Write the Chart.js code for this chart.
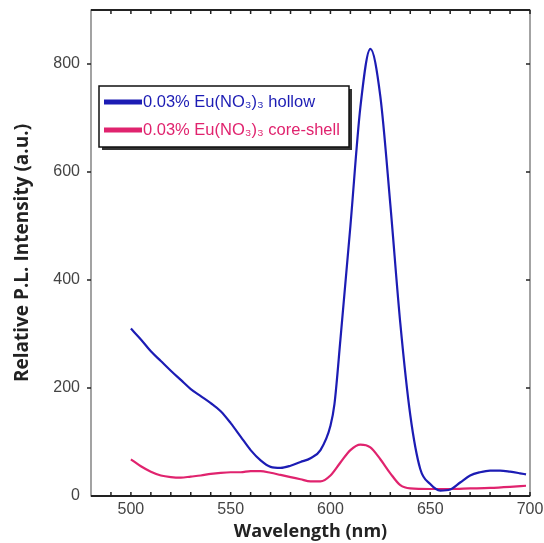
<!DOCTYPE html>
<html>
<head>
<meta charset="utf-8">
<script src="https://cdn.jsdelivr.net/npm/chart.js@4.4.1/dist/chart.umd.min.js"></script>
<style>
  html, body { margin: 0; padding: 0; background: #fff; }
  #wrap { width: 544px; height: 543px; }
</style>
</head>
<body>
<div id="wrap"><canvas id="chart" width="544" height="543"></canvas></div>
<script>
// wavelength (nm)
const wl_hollow = [500, 505, 510, 515, 520, 525, 530, 535, 540, 545, 550, 555, 560, 565, 570, 575, 580, 585, 590, 595, 600, 602, 605, 610, 615, 620, 625, 630, 635, 640, 645, 650, 655, 660, 665, 670, 675, 680, 685, 690, 695, 698]
const pl_hollow = [310, 290, 268, 250, 232, 215, 198, 185, 172, 157, 135, 110, 85, 66, 54, 52, 56, 63, 70, 85, 130, 170, 290, 500, 720, 828, 740, 540, 320, 150, 50, 22, 10, 12, 25, 38, 44, 47, 47, 45, 42, 40]

const wl_core = [500, 505, 510, 515, 520, 525, 530, 535, 540, 545, 550, 555, 560, 565, 570, 575, 580, 585, 590, 595, 600, 605, 610, 615, 620, 625, 630, 635, 640, 650, 660, 670, 680, 690, 698]
const pl_core = [68, 55, 45, 38, 35, 34, 36, 38, 41, 43, 44, 44, 46, 46, 43, 39, 35, 31, 27, 27, 38, 62, 85, 95, 90, 68, 42, 20, 14, 13, 13, 14, 15, 17, 19]

const series_labels = ['0.03% Eu(NO\u2083)\u2083 hollow', '0.03% Eu(NO\u2083)\u2083 core-shell']
const series_colors = ['#1c1cb4', '#e0236e']

const x_ticks = [490, 500, 510, 520, 530, 540, 550, 560, 570, 580, 590, 600, 610, 620, 630, 640, 650, 660, 670, 680, 690, 700]
const x_labels = [500, 550, 600, 650, 700]
const y_ticks = [0, 200, 400, 600, 800]

let zip = (xs, ys) => xs.map((x, i) => ({x: x, y: ys[i]}))

// frame, inward ticks and legend box
const framePlugin = {
  id: 'frame',
  afterDraw(chart) {
    const {ctx, chartArea: a, scales} = chart
    ctx.save()
    ctx.strokeStyle = '#666'
    ctx.lineWidth = 1.2
    ctx.strokeRect(a.left, a.top, a.right - a.left, a.bottom - a.top)
    ctx.strokeStyle = '#222'
    ctx.lineWidth = 2
    ctx.beginPath()
    ctx.moveTo(a.left, a.bottom); ctx.lineTo(a.right, a.bottom)
    ctx.moveTo(a.left, a.top); ctx.lineTo(a.right, a.top)
    ctx.stroke()
    ctx.lineWidth = 1.5
    ctx.beginPath()
    x_ticks.forEach(v => {
      const px = scales.x.getPixelForValue(v)
      ctx.moveTo(px, a.bottom); ctx.lineTo(px, a.bottom - 4)
      ctx.moveTo(px, a.top); ctx.lineTo(px, a.top + 4)
    })
    y_ticks.slice(1).forEach(v => {
      const py = scales.y.getPixelForValue(v)
      ctx.moveTo(a.left, py); ctx.lineTo(a.left - 4, py)
      ctx.moveTo(a.right, py); ctx.lineTo(a.right - 4, py)
    })
    ctx.stroke()

    // legend
    const bx = a.left + 8, by = a.top + 76, bw = 250, bh = 61
    ctx.fillStyle = '#333'
    ctx.fillRect(bx + 3, by + 3, bw, bh)
    ctx.fillStyle = '#fff'
    ctx.fillRect(bx, by, bw, bh)
    ctx.strokeStyle = '#111'
    ctx.lineWidth = 1.5
    ctx.strokeRect(bx, by, bw, bh)
    ctx.font = '16.5px "Liberation Sans", Arial, sans-serif'
    ctx.textBaseline = 'middle'
    chart.data.datasets.forEach((ds, i) => {
      const ly = by + 16 + i * 28
      ctx.strokeStyle = ds.borderColor
      ctx.lineWidth = 5
      ctx.beginPath()
      ctx.moveTo(bx + 5, ly); ctx.lineTo(bx + 43, ly)
      ctx.stroke()
      ctx.fillStyle = ds.borderColor
      ctx.fillText(ds.label, bx + 44, ly)
    })
    ctx.restore()
  }
}

const ctx = document.getElementById('chart')
const chart = new Chart(ctx, {
  type: 'line',
  data: {
    datasets: [
      {
        label: series_labels[0],
        data: zip(wl_hollow, pl_hollow),
        borderColor: series_colors[0],
        borderWidth: 2.2,
        pointRadius: 0,
        fill: false,
        cubicInterpolationMode: 'monotone'
      }, {
        label: series_labels[1],
        data: zip(wl_core, pl_core),
        borderColor: series_colors[1],
        borderWidth: 2.2,
        pointRadius: 0,
        fill: false,
        cubicInterpolationMode: 'monotone'
      }
    ]
  },
  options: {
    responsive: false,
    animation: false,
    layout: { padding: { top: 10, right: 14, left: 0, bottom: 0 } },
    plugins: { legend: { display: false }, tooltip: { enabled: false } },
    scales: {
      x: {
        type: 'linear',
        min: 480,
        max: 700,
        afterBuildTicks: s => { s.ticks = x_ticks.map(v => ({value: v})) },
        afterFit: s => { s.height = 47; s.paddingLeft = 0; s.paddingRight = 0 },
        ticks: {
          autoSkip: false,
          maxRotation: 0,
          padding: 4,
          color: '#444',
          font: { family: '"Liberation Sans", Arial, sans-serif', size: 16 },
          callback: v => x_labels.includes(v) ? String(v) : ''
        },
        grid: { drawOnChartArea: false, drawTicks: false },
        border: { display: false },
        title: {
          display: true,
          text: 'Wavelength (nm)',
          color: '#222',
          padding: { top: 0, bottom: 0 },
          font: { family: '"Open Sans", sans-serif', size: 18, weight: 'bold' }
        }
      },
      y: {
        min: 0,
        max: 900,
        afterBuildTicks: s => { s.ticks = y_ticks.map(v => ({value: v})) },
        afterFit: s => { s.width = 91; s.paddingTop = 0; s.paddingBottom = 0 },
        ticks: {
          padding: 11,
          color: '#444',
          font: { family: '"Liberation Sans", Arial, sans-serif', size: 16 }
        },
        grid: { drawOnChartArea: false, drawTicks: false },
        border: { display: false },
        title: {
          display: true,
          text: 'Relative P.L. Intensity (a.u.)',
          color: '#222',
          padding: { top: 11, bottom: 0 },
          font: { family: '"Open Sans", sans-serif', size: 19, weight: 'bold' }
        }
      }
    }
  },
  plugins: [framePlugin]
})
</script>
</body>
</html>
